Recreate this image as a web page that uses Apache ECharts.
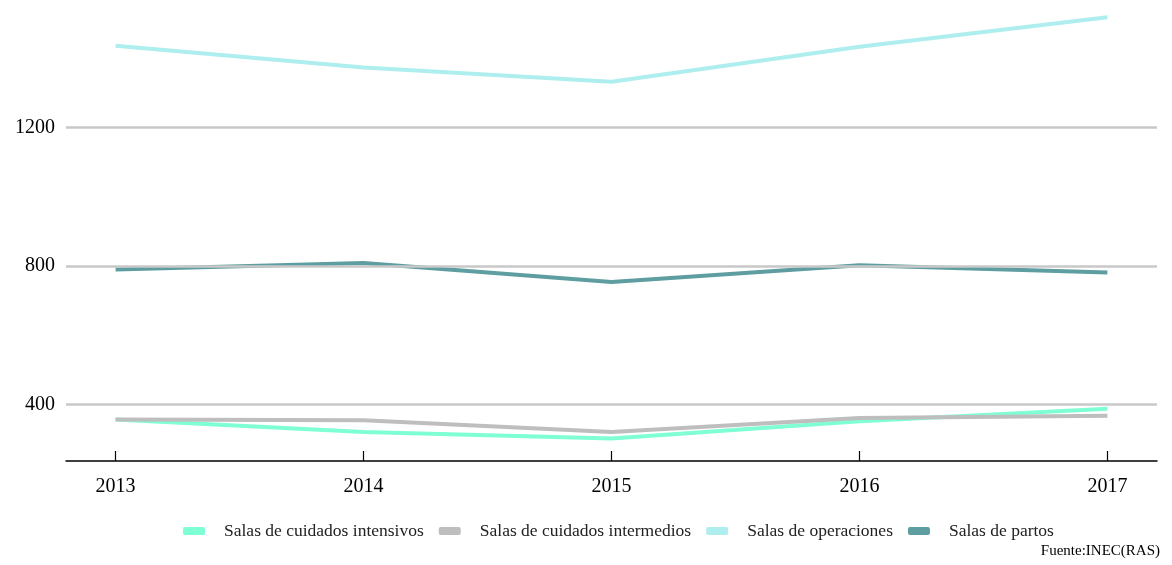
<!DOCTYPE html>
<html><head><meta charset="utf-8">
<script src="https://cdn.jsdelivr.net/npm/echarts@6/dist/echarts.min.js"></script>
<style>html,body{margin:0;padding:0;background:#fff}#c{width:1172px;height:565px}</style>
</head><body><div id="c"></div>
<script>
const years = [2013, 2014, 2015, 2016, 2017];
const intensivos = [357, 321, 302, 352, 388];
const intermedios = [357, 355, 321, 361, 368];
const operaciones = [1436, 1373, 1332, 1433, 1518];
const partos = [790, 809, 754, 802, 781];
const yTicks = [400, 800, 1200];
const names = ['Salas de cuidados intensivos','Salas de cuidados intermedios','Salas de operaciones','Salas de partos'];
const colors = ['#7FFFD4','#BEBEBE','#AFEEEE','#5F9EA0'];
const font = 'Liberation Serif, Times New Roman, serif';
function pts(v){ return years.map((y,i)=>[y, v[i]]); }
const chart = echarts.init(document.getElementById('c'));
const mk = (i, v) => ({
  name: names[i], type: 'line', data: pts(v), symbol: 'none',
  lineStyle: {width: 4, color: colors[i]}, itemStyle: {color: colors[i]}, z: 3
});
chart.setOption({
  animation: false,
  textStyle: {fontFamily: font},
  grid: {left: 66, right: 15, top: 0, bottom: 104},
  xAxis: {
    type: 'value', min: 2012.8, max: 2017.2,
    axisLine: {show: true, lineStyle: {color: '#000', width: 1.5}},
    axisTick: {show: true, inside: true, length: 10, customValues: years, lineStyle: {color: '#000', width: 1.2}},
    axisLabel: {customValues: years, color: '#000', fontSize: 20, fontFamily: font, margin: 16, formatter: v => String(v)},
    splitLine: {show: false}
  },
  yAxis: {
    type: 'value', min: 237, max: 1568,
    axisLine: {show: false}, axisTick: {show: false, customValues: yTicks},
    axisLabel: {customValues: yTicks, color: '#000', fontSize: 20, fontFamily: font, margin: 11, formatter: v => String(v)},
    splitLine: {show: false}
  },
  legend: {
    bottom: 25, left: 183, padding: 0, itemWidth: 22, itemHeight: 8, itemGap: 15,
    icon: 'roundRect',
    textStyle: {fontFamily: font, fontSize: 17.5, color: '#222', padding: [0,0,0,14]},
    data: names
  },
  graphic: [{type: 'text', right: 12, bottom: 6, style: {text: 'Fuente:INEC(RAS)', font: '15px ' + font, fill: '#000'}}],
  series: [
    mk(0, intensivos), mk(1, intermedios), mk(2, operaciones), mk(3, partos),
    {type: 'line', data: [], silent: true, z: 1,
     markLine: {silent: true, symbol: 'none', label: {show: false},
       lineStyle: {color: '#C8C8C8', width: 2.5, type: 'solid'},
       data: yTicks.map(v => ({yAxis: v}))}}
  ]
});
</script></body></html>
